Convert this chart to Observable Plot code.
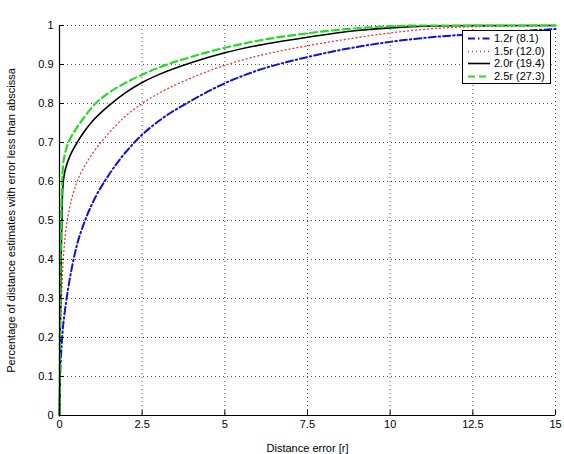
<!DOCTYPE html>
<html>
<head>
<meta charset="utf-8">
<script src="https://cdn.jsdelivr.net/npm/d3@7"></script>
<script src="https://cdn.jsdelivr.net/npm/@observablehq/plot@0.6"></script>
<style>
  html, body { margin: 0; padding: 0; background: #fff; }
  #wrap { position: relative; width: 564px; height: 454px; font-family: "Liberation Sans", Arial, sans-serif; }
  #legend { position: absolute; left: 462px; top: 30px; width: 87px; height: 52px; border: 1px solid #000; background: #fff; font-size: 11px; }
  .row { position: absolute; left: 0; height: 13px; width: 100%; }
  .row svg { position: absolute; left: 4px; top: 0; }
  .row span { position: absolute; left: 31px; top: 0; line-height: 13px; white-space: nowrap; }
</style>
</head>
<body>
<div id="wrap"></div>
<script>
// Sample abscissae (distance error [r])
const xs = [0, 0.02, 0.05, 0.08, 0.1, 0.15, 0.2, 0.3, 0.5, 0.75, 1, 1.5, 2, 2.5, 3, 4, 5, 6, 7.5, 9, 10, 11, 12.5, 14, 15];
// Cumulative fraction per series
const s12 = [0, 0.10, 0.16, 0.20, 0.222, 0.26, 0.292, 0.345, 0.428, 0.495, 0.545, 0.618, 0.675, 0.72, 0.755, 0.808, 0.852, 0.885, 0.919, 0.945, 0.958, 0.968, 0.978, 0.986, 0.991];
const s15 = [0, 0.15, 0.27, 0.34, 0.38, 0.44, 0.48, 0.53, 0.592, 0.638, 0.672, 0.725, 0.768, 0.80, 0.826, 0.866, 0.898, 0.922, 0.948, 0.969, 0.981, 0.99, 0.997, 0.999, 1];
const s20 = [0, 0.20, 0.40, 0.54, 0.585, 0.62, 0.638, 0.662, 0.695, 0.728, 0.755, 0.795, 0.828, 0.854, 0.874, 0.905, 0.93, 0.949, 0.97, 0.987, 0.994, 0.998, 1, 1, 1];
const s25 = [0, 0.30, 0.50, 0.60, 0.635, 0.665, 0.683, 0.705, 0.735, 0.765, 0.792, 0.828, 0.853, 0.874, 0.892, 0.92, 0.943, 0.961, 0.98, 0.993, 0.998, 1, 1, 1, 1];
const seriesNames = ["1.2r (8.1)", "1.5r (12.0)", "2.0r (19.4)", "2.5r (27.3)"];
const xTicks = [0, 2.5, 5, 7.5, 10, 12.5, 15];
const yTicks = [0, 0.1, 0.2, 0.3, 0.4, 0.5, 0.6, 0.7, 0.8, 0.9, 1];

const styles = [
  {stroke: "#1010d8", strokeWidth: 2, strokeDasharray: "7,3,1.5,3"},
  {stroke: "#ee3333", strokeWidth: 1.3, strokeDasharray: "1,3"},
  {stroke: "#000000", strokeWidth: 1.6, strokeDasharray: null},
  {stroke: "#22dd22", strokeWidth: 2.2, strokeDasharray: "7,4"}
];

const allY = [s12, s15, s20, s25];
const tables = allY.map(ys => xs.map((x, i) => ({x, y: ys[i]})));

const lineMarks = tables.map((t, k) => Plot.line(t, {
  x: "x", y: "y", curve: "monotone-x",
  stroke: styles[k].stroke, strokeWidth: styles[k].strokeWidth,
  strokeDasharray: styles[k].strokeDasharray
}));

const fmt = d => String(d);

const plot = Plot.plot({
  width: 564, height: 454,
  marginLeft: 59, marginRight: 9, marginTop: 25, marginBottom: 39,
  style: {fontFamily: '"Liberation Sans", Arial, sans-serif', fontSize: "11px", color: "#000", background: "#fff"},
  x: {domain: [0, 15]},
  y: {domain: [0, 1]},
  marks: [
    Plot.gridX(xTicks, {stroke: "#444", strokeOpacity: 0.9, strokeDasharray: "1,3"}),
    Plot.gridY(yTicks, {stroke: "#444", strokeOpacity: 0.9, strokeDasharray: "1,3"}),
    ...lineMarks,
    Plot.ruleY([0], {stroke: "#000", strokeWidth: 1.2}),
    Plot.ruleX([0], {stroke: "#000", strokeWidth: 1.2}),
    Plot.axisX(xTicks, {tickSize: 5, dy: -5, tickFormat: () => "", label: null}),
    Plot.axisY(yTicks, {tickSize: 5, dx: 5, tickFormat: () => "", label: null}),
    Plot.axisX(xTicks, {tickSize: 0, tickPadding: 5, tickFormat: fmt, label: "Distance error [r]", labelAnchor: "center", labelOffset: 36, labelArrow: "none", fontSize: 11}),
    Plot.axisY(yTicks, {tickSize: 0, tickPadding: 6, tickFormat: fmt, label: "Percentage of distance estimates with error less than abscissa", labelAnchor: "center", labelOffset: 52, labelArrow: "none", fontSize: 11})
  ]
});

const wrap = document.getElementById("wrap");
wrap.appendChild(plot);

// Legend
const legend = document.createElement("div");
legend.id = "legend";
seriesNames.forEach((name, k) => {
  const row = document.createElement("div");
  row.className = "row";
  row.style.top = (1 + k * 12.5) + "px";
  const st = styles[k];
  row.innerHTML = `<svg width="24" height="13"><line x1="1" x2="23" y1="6.5" y2="6.5" stroke="${st.stroke}" stroke-width="${st.strokeWidth}" ${st.strokeDasharray ? `stroke-dasharray="${st.strokeDasharray}"` : ""}/></svg><span>${name}</span>`;
  legend.appendChild(row);
});
wrap.appendChild(legend);
</script>
</body>
</html>
